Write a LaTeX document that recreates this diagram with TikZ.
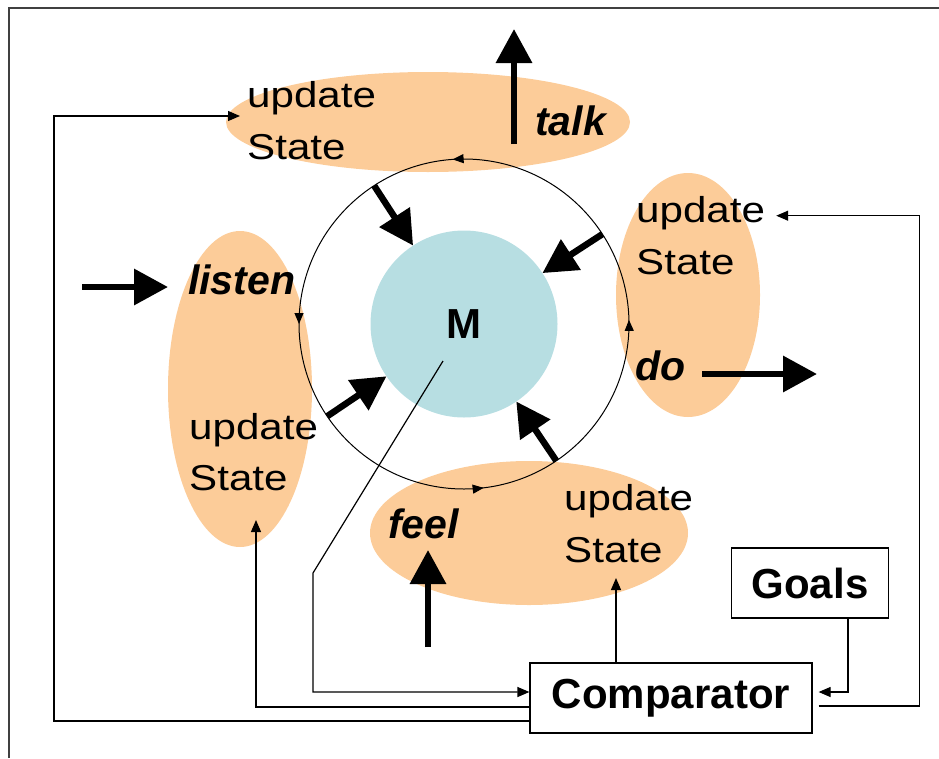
\documentclass[tikz,border=0pt]{standalone}
\usepackage{fontspec}
\setmainfont{Liberation Sans}
\newfontfamily\widesans{Liberation Sans}[FakeStretch=1.17]
\usetikzlibrary{arrows.meta,shapes.geometric,decorations.markings}
\definecolor{peach}{RGB}{252,204,153}
\definecolor{paleblue}{RGB}{183,222,226}
\begin{document}
\begin{tikzpicture}[x=1pt,y=1pt,
      blob/.style={ellipse, fill=peach, inner sep=0pt, outer sep=0pt},
      word/.style={anchor=base west, inner sep=0pt, font=\widesans\fontsize{36}{42}\selectfont},
      act/.style={anchor=base west, inner sep=0pt, font=\bfseries\itshape\fontsize{41}{48}\selectfont},
      box/.style={draw, line width=1.2pt, fill=white, minimum height=70pt, inner sep=0pt,
        font=\bfseries\fontsize{42}{50}\selectfont},
      link/.style={line width=1.2pt, -{Triangle[length=12pt,width=10pt]}},
      push/.style={line width=6.5pt, -{Triangle[length=34pt,width=35pt]}},
      tick/.style={postaction=decorate, decoration={markings,
        mark=at position 0.129 with {\arrow{Triangle[length=11pt,width=9pt]}},
        mark=at position 0.386 with {\arrow{Triangle[length=11pt,width=9pt]}},
        mark=at position 0.625 with {\arrow{Triangle[length=11pt,width=9pt]}},
        mark=at position 0.894 with {\arrow{Triangle[length=11pt,width=9pt]}}}}]
    \useasboundingbox (0,0) rectangle (939,-758);
    \node[blob, minimum width=404pt, minimum height=100pt] (blobT) at (428,-122) {};
    \node[blob, minimum width=144pt, minimum height=244pt] (blobR) at (688,-295) {};
    \node[blob, minimum width=144pt, minimum height=316pt] (blobL) at (240,-389) {};
    \node[blob, minimum width=318pt, minimum height=144pt] (blobB) at (529,-533) {};
    \draw[line width=1.5pt, black!75] (9,-758) -- (9,-8) -- (939,-8);
    \node[circle, minimum size=330pt, inner sep=0pt, outer sep=0pt] (ring) at (464,-324) {};
    \draw[line width=1pt, tick] (ring.-45) arc[start angle=-45, end angle=315, radius=165];
    \node[circle, fill=paleblue, minimum size=187pt, inner sep=0pt, outer sep=0pt,
      font=\bfseries\fontsize{42}{50}\selectfont] (mem) at (464,-324) {M};
    \node[word] (upT) at (247,-107) {update};
    \node[word] (stT) at (247,-159) {State};
    \node[word] (upR) at (636,-222) {update};
    \node[word] (stR) at (636,-274) {State};
    \node[word] (upL) at (189,-439) {update};
    \node[word] (stL) at (189,-490) {State};
    \node[word] (upB) at (564,-510) {update};
    \node[word] (stB) at (564,-562) {State};
    \node[act] (talk) at (535,-135) {talk};
    \node[act] (listen) at (188,-294) {listen};
    \node[act] (do) at (635,-380) {do};
    \node[act] (feel) at (388,-538) {feel};
    \node[box, minimum width=157pt] (goals) at (810,-583) {Goals};
    \node[box, minimum width=282pt] (comp) at (671,-698) {Comparator};
    \coordinate (talkout) at (514,-29);
    \coordinate (listenin) at (82,-287);
    \coordinate (doout) at (817,-374);
    \coordinate (feelin) at (428,-647);
    \foreach \a in {123,33,214,304}
      \draw[push] (ring.\a) -- (mem.\a);
    \draw[push] ([xshift=-21pt,yshift=-9pt]talk.base west) -- (talkout);
    \draw[push] (listenin) -- ([xshift=-20pt,yshift=7pt]listen.base west);
    \draw[push] ([xshift=67pt,yshift=6pt]do.base west) -- (doout);
    \draw[push] (feelin) -- ([xshift=40pt,yshift=-12pt]feel.base west);
    \draw[link] ([shift={(-21,-37)}]mem.center) -- (313,-573) |- ([yshift=6pt]comp.west);
    \draw[link] ([yshift=-9pt]comp.west) -| ([xshift=16pt,yshift=27pt]blobL.south);
    \draw[link] ([yshift=-23pt]comp.west) -| (54,-116) -- ([xshift=14pt,yshift=6pt]blobT.west);
    \draw[link] ([xshift=-55pt]comp.north) -- ([xshift=87pt,yshift=27pt]blobB.south);
    \draw[link] ([xshift=38pt]goals.south) |- ([xshift=6pt,yshift=6pt]comp.east);
    \draw[link] ([xshift=6pt,yshift=-8pt]comp.east) -- ++(101,0) |- ([xshift=11pt,yshift=-3pt]upR.east);
\end{tikzpicture}
\end{document}
